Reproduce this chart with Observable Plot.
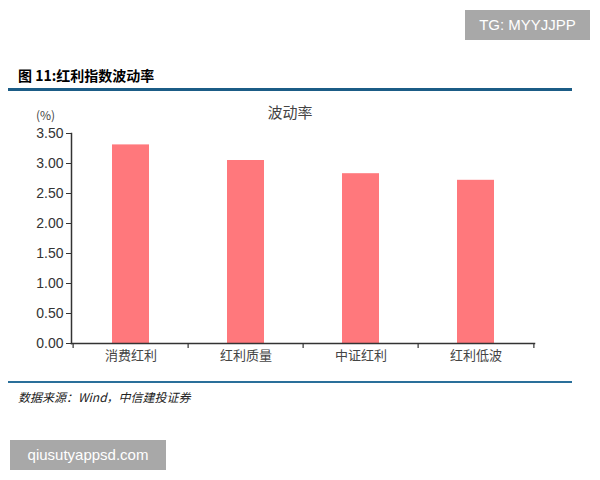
<!DOCTYPE html>
<html><head><meta charset="utf-8">
<script src="https://cdn.jsdelivr.net/npm/d3@7"></script>
<script src="https://cdn.jsdelivr.net/npm/@observablehq/plot@0.6"></script>
<style>
body{margin:0;background:#fff;font-family:"Noto Sans CJK SC",sans-serif;}
#wrap{position:relative;width:600px;height:480px;overflow:hidden;}
.abs{position:absolute;}
</style></head>
<body><div id="wrap">
<div class="abs" style="left:465px;top:10px;width:125px;height:30px;background:#a8a8a8;color:#fff;font:15px 'Liberation Sans',Arial,sans-serif;line-height:30px;text-align:center;">TG: MYYJJPP</div>
<div class="abs" style="left:18px;top:65px;font-size:14px;font-weight:bold;color:#000;">图 11:红利指数波动率</div>
<div class="abs" style="left:8px;top:88px;width:564px;height:3px;background:#1b5c86;"></div>
<div class="abs" style="left:36px;top:106px;font-size:12px;color:#444;">(%)</div>
<div class="abs" style="left:0;top:101px;width:580px;text-align:center;font-size:15px;color:#444;">波动率</div>
<div class="abs" id="chart" style="left:0;top:100px;"></div>
<div class="abs" style="left:8px;top:381px;width:564px;height:2px;background:#2a6f9a;"></div>
<div class="abs" style="left:18px;top:388px;font-size:12px;font-style:italic;color:#222;">数据来源：Wind，中信建投证券</div>
<div class="abs" style="left:10px;top:440px;width:156px;height:30px;background:#a8a8a8;color:#fff;font:15px 'Liberation Sans',Arial,sans-serif;line-height:30px;text-align:center;">qiusutyappsd.com</div>
</div>
<script>
const categories = ["消费红利","红利质量","中证红利","红利低波"];
const values = [3.31, 3.05, 2.83, 2.72];
const yTicks = [0,0.5,1,1.5,2,2.5,3,3.5];

const data = categories.map((c,i)=>({cat:c, v:values[i]}));
const W = 600, ML = 71, MR = 66;
const half = (W - ML - MR) / categories.length / 2;

const chart = Plot.plot({
  width: W, height: 270,
  marginTop: 33, marginBottom: 27, marginLeft: ML, marginRight: MR,
  style: {fontFamily: "'Liberation Sans', Arial, sans-serif", fontSize: "13px", color: "#333", background: "transparent"},
  x: {domain: categories, padding: 0, label: null},
  y: {domain: [0, 3.5], label: null},
  marks: [
    Plot.barY(data, {x: "cat", y: "v", fill: "#ff787c", insetLeft: 39, insetRight: 39}),
    Plot.axisY({ticks: yTicks, tickFormat: d3.format(".2f"), tickSize: 5, tickPadding: 3, fontSize: 14, color: "#333"}),
    Plot.axisX({tickSize: 0, tickPadding: 7, fontSize: 13, fontFamily: "'Noto Sans CJK SC', sans-serif", color: "#444"}),
    Plot.frame({anchor: "left", stroke: "#333", strokeWidth: 1.5}),
    Plot.frame({anchor: "bottom", stroke: "#333", strokeWidth: 1.5}),
    Plot.ruleX(categories, {x: d => d, dx: -half, y1: 0, y2: -0.085, stroke: "#333", strokeWidth: 1.2}),
    Plot.ruleX(categories.slice(-1), {x: d => d, dx: half, y1: 0, y2: -0.085, stroke: "#333", strokeWidth: 1.2})
  ]
});
document.getElementById("chart").appendChild(chart);
</script>
</body></html>
